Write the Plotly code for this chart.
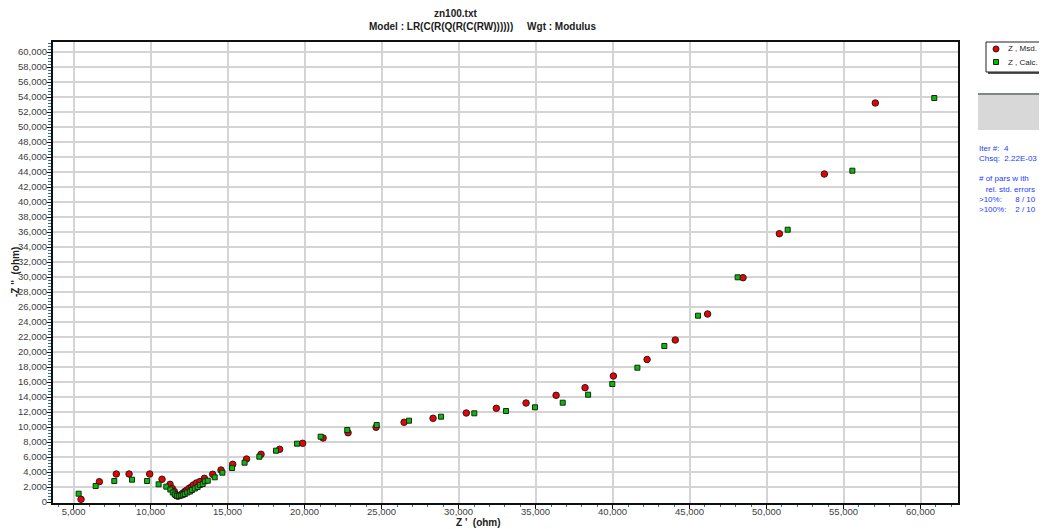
import plotly.graph_objects as go

# Measured impedance (Z', -Z'')
msd_zre = [5480, 6670, 7770, 8600, 9940, 10740, 11260, 11410, 11540, 11600, 11670, 11730, 11800,
           11900, 11990, 12100, 12220, 12320, 12480, 12640, 12770, 12970, 13200, 13490, 14030,
           14570, 15330, 16230, 17170, 18380, 19870, 21200, 22820, 24640, 26460, 28340, 30500,
           32450, 34380, 36330, 38210, 40050, 42240, 44070, 46170, 48470, 50830, 53750, 57060]
msd_zim = [360, 2710, 3730, 3730, 3730, 3030, 2360, 1800, 1400, 1067, 867, 800, 800,
           867, 1000, 1200, 1400, 1533, 1800, 2000, 2267, 2533, 2733, 3160, 3693,
           4267, 5027, 5733, 6360, 7027, 7827, 8533, 9240, 9960, 10627, 11160, 11867,
           12493, 13200, 14227, 15240, 16800, 19000, 21600, 25067, 29907, 35773, 43733, 53200]

# Calculated impedance (Z', -Z'')
calc_zre = [5325, 6430, 7640, 8790, 9770, 10520, 11020, 11280, 11440, 11570, 11700, 11830, 11960,
            12090, 12220, 12380, 12550, 12680, 12870, 13050, 13200, 13380, 13520, 13710, 14160,
            14660, 15290, 16100, 17060, 18140, 19510, 21040, 22770, 24680, 26780, 28860, 31020,
            33080, 34960, 36760, 38410, 39980, 41610, 43360, 45550, 48120, 51370, 55570, 60890]
calc_zim = [1107, 2133, 2800, 2973, 2800, 2360, 2040, 1667, 1267, 1000, 840, 800, 867,
            960, 1067, 1267, 1400, 1600, 1800, 2000, 2267, 2400, 2760, 2840, 3293,
            3907, 4533, 5240, 6040, 6840, 7773, 8707, 9600, 10267, 10840, 11373, 11827,
            12133, 12627, 13240, 14307, 15733, 17907, 20800, 24840, 29960, 36307, 44173, 53867]

series_names = ["Z , Msd.", "Z , Calc."]
title_file = "zn100.txt"
title_model = "Model : LR(C(R(Q(R(C(RW))))))\u00a0\u00a0\u00a0\u00a0\u00a0Wgt : Modulus"
x_title = "Z '\u00a0\u00a0(ohm)"
y_title = "-Z ''\u00a0\u00a0(ohm)"
info_lines = ["Iter #:\u00a0\u00a04", "Chsq:\u00a0\u00a02.22E-03", "",
              "# of pars w ith", "\u00a0\u00a0\u00a0rel. std. errors",
              ">10%:\u00a0\u00a0\u00a0\u00a0\u00a0\u00a08 / 10",
              ">100%:\u00a0\u00a0\u00a0\u00a02 / 10"]

FONT = "Liberation Sans, Arial, sans-serif"
MSD_COLOR = "#ee0000"
CALC_COLOR = "#00c000"

fig = go.Figure()
fig.add_trace(go.Scatter(
    x=msd_zre, y=msd_zim, mode="markers", name=series_names[0],
    marker=dict(symbol="circle", size=6.5, color=MSD_COLOR,
                line=dict(color="#202020", width=1))))
fig.add_trace(go.Scatter(
    x=calc_zre, y=calc_zim, mode="markers", name=series_names[1],
    marker=dict(symbol="square", size=5, color=CALC_COLOR,
                line=dict(color="#202020", width=1))))

# the page body adds an 8px offset, so the figure is 8px smaller and shifted
fig.update_layout(
    width=1039, height=521,
    margin=dict(l=45, r=89, t=34, b=26, autoexpand=False),
    paper_bgcolor="white", plot_bgcolor="white",
    font=dict(family=FONT, size=10, color="#404040"),
    showlegend=False,
    xaxis=dict(range=[3660, 62430], tickvals=[5000, 10000, 15000, 20000, 25000, 30000,
                                             35000, 40000, 45000, 50000, 55000, 60000],
               tickformat=",d", showgrid=True, gridcolor="#d4d4d4", gridwidth=1.5,
               showline=True, linecolor="#101010", linewidth=2, mirror=True,
               ticks="outside", ticklen=4, tickcolor="#101010", tickwidth=1,
               minor=dict(dtick=1000, ticks="outside", ticklen=2, tickcolor="#2a7a7a",
                          showgrid=False),
               ticklabelstandoff=-5,
               zeroline=False, automargin=False, tickfont=dict(size=9.5, color="#404040")),
    yaxis=dict(range=[-133, 61333], dtick=2000, tick0=0,
               tickformat=",d", showgrid=True, gridcolor="#d4d4d4", gridwidth=1.5,
               showline=True, linecolor="#101010", linewidth=2, mirror=True,
               ticks="outside", ticklen=4, tickcolor="#101010", tickwidth=1,
               minor=dict(dtick=400, ticks="outside", ticklen=3, tickcolor="#2a7a7a",
                          showgrid=False),
               ticklabelstandoff=-2,
               zeroline=False, automargin=False, tickfont=dict(size=9.5, color="#404040")),
)

def px_x(px):
    return (px - 53) / 905.0

def px_y(py):
    return (503 - py) / 461.0

annotations = [
    dict(text="<b>%s</b>" % title_file, x=px_x(455), y=px_y(13), xref="paper", yref="paper",
         showarrow=False, font=dict(family=FONT, size=10, color="#202020"),
         xanchor="center", yanchor="middle"),
    dict(text="<b>%s</b>" % title_model, x=px_x(482), y=px_y(27), xref="paper", yref="paper",
         showarrow=False, font=dict(family=FONT, size=10, color="#202020"),
         xanchor="center", yanchor="middle"),
    dict(text="<b>%s</b>" % x_title, x=px_x(478), y=px_y(522), xref="paper", yref="paper",
         showarrow=False, font=dict(family=FONT, size=10, color="#202020"),
         xanchor="center", yanchor="middle"),
    dict(text="<b>%s</b>" % y_title, x=px_x(15), y=px_y(272), xref="paper", yref="paper",
         showarrow=False, textangle=-90, font=dict(family=FONT, size=10, color="#202020"),
         xanchor="center", yanchor="middle"),
    dict(text=series_names[0], x=px_x(1006), y=px_y(49), xref="paper", yref="paper",
         showarrow=False, font=dict(family=FONT, size=8, color="#202020"),
         xanchor="left", yanchor="middle"),
    dict(text=series_names[1], x=px_x(1006), y=px_y(62), xref="paper", yref="paper",
         showarrow=False, font=dict(family=FONT, size=8, color="#202020"),
         xanchor="left", yanchor="middle"),
]
for i, line in enumerate(info_lines):
    if not line:
        continue
    annotations.append(dict(text=line, x=px_x(977), y=px_y(148 + 10.3 * i), xref="paper",
                            yref="paper", showarrow=False, align="left",
                            font=dict(family=FONT, size=8, color="#2040ff"),
                            xanchor="left", yanchor="middle"))
fig.update_layout(annotations=annotations)

# legend box with shadow
fig.add_shape(type="rect", xref="paper", yref="paper", x0=px_x(988), x1=px_x(1045),
              y0=px_y(74), y1=px_y(44), fillcolor="#555555", line=dict(width=0), layer="above")
fig.add_shape(type="rect", xref="paper", yref="paper", x0=px_x(986), x1=px_x(1043),
              y0=px_y(72), y1=px_y(42), fillcolor="white", line=dict(color="#202020", width=1),
              layer="above")
fig.add_shape(type="circle", xref="paper", yref="paper", xsizemode="pixel", ysizemode="pixel",
              xanchor=px_x(996), yanchor=px_y(49), x0=-3, x1=3, y0=-3, y1=3,
              fillcolor=MSD_COLOR, line=dict(color="#202020", width=1), layer="above")
fig.add_shape(type="rect", xref="paper", yref="paper", xsizemode="pixel", ysizemode="pixel",
              xanchor=px_x(996), yanchor=px_y(62), x0=-2.5, x1=2.5, y0=-2.5, y1=2.5,
              fillcolor=CALC_COLOR, line=dict(color="#202020", width=1), layer="above")

# gray status box
fig.add_shape(type="rect", xref="paper", yref="paper", x0=px_x(978), x1=px_x(1047),
              y0=px_y(130), y1=px_y(93), fillcolor="#d8d8d8", line=dict(width=0), layer="above")
fig.add_shape(type="line", xref="paper", yref="paper", x0=px_x(978), x1=px_x(1047),
              y0=px_y(94), y1=px_y(94), line=dict(color="#7a8a80", width=2), layer="above")

fig.write_html("out.html")
